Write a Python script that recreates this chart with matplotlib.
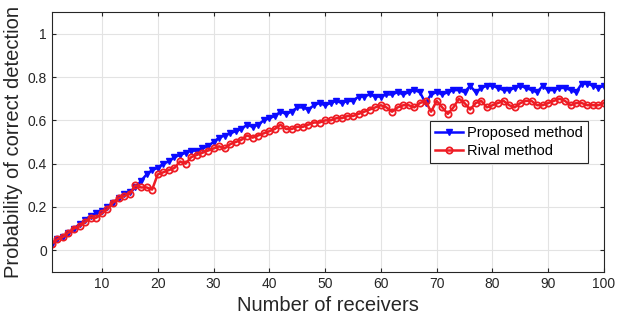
import matplotlib
matplotlib.use('Agg')
import matplotlib.pyplot as plt
import numpy as np

plt.rcParams['font.family'] = ['Liberation Sans', 'DejaVu Sans']

receivers = np.arange(1, 101)

proposed = [0.03, 0.05, 0.06, 0.08, 0.10, 0.12, 0.14, 0.16, 0.17, 0.18,
            0.20, 0.22, 0.24, 0.26, 0.27, 0.29, 0.32, 0.35, 0.37, 0.38,
            0.40, 0.41, 0.43, 0.44, 0.45, 0.46, 0.46, 0.47, 0.48, 0.50,
            0.52, 0.53, 0.54, 0.55, 0.56, 0.58, 0.57, 0.58, 0.60, 0.61,
            0.62, 0.64, 0.63, 0.64, 0.66, 0.66, 0.65, 0.67, 0.68, 0.67,
            0.68, 0.69, 0.68, 0.69, 0.69, 0.71, 0.71, 0.72, 0.71, 0.71,
            0.72, 0.72, 0.73, 0.72, 0.73, 0.74, 0.73, 0.68, 0.72, 0.73,
            0.72, 0.73, 0.74, 0.74, 0.73, 0.76, 0.73, 0.75, 0.76, 0.76,
            0.75, 0.74, 0.74, 0.75, 0.76, 0.75, 0.74, 0.73, 0.76, 0.74,
            0.74, 0.75, 0.75, 0.74, 0.73, 0.77, 0.77, 0.76, 0.75, 0.76]

rival = [0.03, 0.05, 0.06, 0.08, 0.10, 0.11, 0.13, 0.15, 0.15, 0.17,
         0.19, 0.22, 0.24, 0.25, 0.26, 0.30, 0.29, 0.29, 0.28, 0.35,
         0.36, 0.37, 0.38, 0.41, 0.40, 0.43, 0.44, 0.45, 0.46, 0.47,
         0.48, 0.47, 0.49, 0.50, 0.51, 0.53, 0.52, 0.53, 0.54, 0.55,
         0.56, 0.58, 0.56, 0.56, 0.57, 0.57, 0.58, 0.59, 0.59, 0.60,
         0.60, 0.61, 0.61, 0.62, 0.62, 0.63, 0.64, 0.65, 0.66, 0.67,
         0.66, 0.64, 0.66, 0.67, 0.67, 0.66, 0.68, 0.69, 0.64, 0.69,
         0.66, 0.63, 0.66, 0.70, 0.68, 0.65, 0.68, 0.69, 0.66, 0.67,
         0.68, 0.69, 0.67, 0.66, 0.68, 0.69, 0.69, 0.67, 0.67, 0.68,
         0.69, 0.70, 0.69, 0.67, 0.68, 0.68, 0.67, 0.67, 0.67, 0.68]

fig = plt.figure(figsize=(6.17, 3.22), dpi=100)
ax = fig.add_axes([0.0838, 0.156, 0.8952, 0.806])

ax.plot(receivers, proposed, '-v', color='#0a0aff', lw=1.8, ms=4.5,
        label='Proposed method')
ax.plot(receivers, rival, '-o', color='#ee1c24', lw=1.8, ms=4.5,
        mfc='none', mew=1.3, label='Rival method')

ax.set_xlim(1, 100)
ax.set_ylim(-0.1, 1.1)
ax.set_xticks(np.arange(10, 101, 10))
ax.set_yticks([0, 0.2, 0.4, 0.6, 0.8, 1])
ax.set_yticklabels(['0', '0.2', '0.4', '0.6', '0.8', '1'])
ax.grid(True, color='#e3e3e3', lw=0.8)
ax.tick_params(direction='in', top=True, right=True, labelsize=10,
               colors='#262626', length=3)
for s in ax.spines.values():
    s.set_color('#262626')
    s.set_linewidth(0.8)

ax.set_xlabel('Number of receivers', fontsize=14.5, color='#262626')
ax.set_ylabel('Probability of correct detection', fontsize=14.5, color='#262626',
              labelpad=3)

leg = ax.legend(loc='upper right', bbox_to_anchor=(0.971, 0.581),
                borderaxespad=0, fancybox=False, framealpha=1,
                edgecolor='#262626', fontsize=10.5, handlelength=1.9,
                handletextpad=0.3, borderpad=0.35, labelspacing=0.25)
leg.get_frame().set_linewidth(0.8)

plt.savefig('out.png', dpi=100)
